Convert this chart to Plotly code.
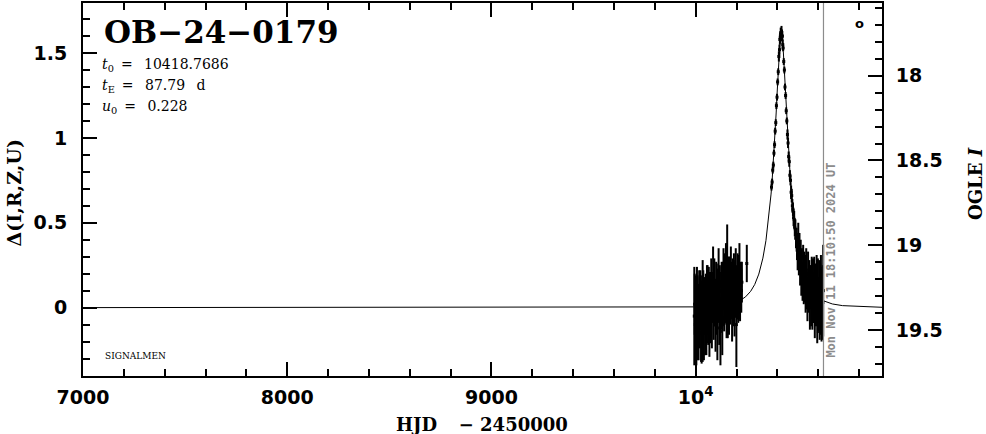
import plotly.graph_objects as go

# ---------------- data ----------------
# model curve
model_t = [7000.0, 9418.8, 9818.8, 10018.8, 10118.8, 10168.8, 10218.8, 10243.8, 10268.8,
           10288.8, 10308.8, 10328.8, 10343.8, 10358.8, 10368.8, 10373.8, 10378.8, 10383.8,
           10388.8, 10393.8, 10398.8, 10403.8, 10408.8, 10413.8, 10418.8, 10423.8, 10428.8,
           10433.8, 10438.8, 10443.8, 10448.8, 10453.8, 10458.8, 10463.8, 10468.8, 10478.8,
           10493.8, 10508.8, 10528.8, 10548.8, 10568.8, 10593.8, 10618.8, 10668.8, 10718.8,
           10818.8, 10912.0]
model_d = [0.0, 0.0001, 0.0009, 0.0043, 0.0116, 0.0215, 0.0431, 0.0634, 0.0959,
           0.1363, 0.1975, 0.2915, 0.3950, 0.5402, 0.6689, 0.7451, 0.8306, 0.9258,
           1.0315, 1.1470, 1.2704, 1.3955, 1.5101, 1.5944, 1.6260, 1.5944, 1.5101,
           1.3955, 1.2704, 1.1470, 1.0315, 0.9258, 0.8306, 0.7451, 0.6689, 0.5402,
           0.3950, 0.2915, 0.1975, 0.1363, 0.0959, 0.0634, 0.0431, 0.0215, 0.0116,
           0.0043, 0.0019]

# OGLE points: baseline season
g1_t = [9993, 9995, 9998, 10001, 10003, 10006, 10009, 10012, 10014, 10017,
        10020, 10023, 10026, 10029, 10031, 10034, 10037, 10040, 10043, 10046,
        10049, 10052, 10055, 10058, 10061, 10064, 10067, 10070, 10073, 10076,
        10079, 10082, 10085, 10088, 10091, 10094, 10097, 10100, 10103, 10106,
        10109, 10112, 10115, 10118, 10121, 10124, 10127, 10130, 10133, 10136,
        10139, 10142, 10145, 10148, 10151, 10154, 10157, 10160, 10163, 10166,
        10169, 10172, 10175, 10178, 10181, 10184, 10187, 10190, 10193, 10196,
        10199, 10202, 10205, 10208, 10211, 10214, 10217, 10220, 10223, 10226,
        10250]
g1_d = [-0.05, 0.02, -0.10, 0.04, -0.14, 0.08, -0.06, 0.00, -0.12, 0.05,
        -0.03, 0.09, -0.08, -0.15, 0.03, -0.02, 0.07, -0.11, 0.01, -0.06,
        0.06, -0.09, 0.02, 0.10, -0.04, 0.04, -0.13, 0.08, 0.00, 0.12,
        -0.05, 0.06, 0.14, -0.02, 0.09, 0.03, -0.08, 0.11, 0.05, -0.12,
        0.07, 0.15, 0.01, 0.10, -0.14, 0.04, 0.13, -0.06, 0.08, 0.17,
        0.03, 0.11, 0.06, 0.19, 0.09, 0.25, 0.02, 0.14, 0.07, 0.12,
        0.05, 0.16, 0.10, 0.02, 0.13, 0.08, 0.18, 0.04, 0.11, 0.15,
        -0.10, 0.09, 0.14, 0.06, 0.12, 0.17, 0.08, 0.13, 0.10, 0.15,
        0.26]
g1_e = [0.29, 0.18, 0.22, 0.15, 0.20, 0.16, 0.25, 0.14, 0.19, 0.17,
        0.21, 0.13, 0.24, 0.18, 0.16, 0.30, 0.15, 0.20, 0.17, 0.22,
        0.14, 0.19, 0.23, 0.15, 0.18, 0.20, 0.16, 0.13, 0.21, 0.17,
        0.19, 0.15, 0.22, 0.17, 0.20, 0.14, 0.18, 0.16, 0.21, 0.19,
        0.16, 0.20, 0.23, 0.15, 0.20, 0.17, 0.14, 0.22, 0.19, 0.18,
        0.17, 0.21, 0.15, 0.19, 0.27, 0.24, 0.20, 0.16, 0.23, 0.18,
        0.15, 0.20, 0.17, 0.22, 0.16, 0.19, 0.14, 0.21, 0.17, 0.20,
        0.25, 0.16, 0.18, 0.15, 0.19, 0.21, 0.16, 0.14, 0.13, 0.12,
        0.11]

# OGLE points: peak
g2_t = [10371, 10374, 10377, 10380, 10383, 10386, 10389, 10392, 10395, 10398,
        10401, 10404, 10407, 10410, 10412, 10414, 10416, 10418, 10420, 10422,
        10424, 10426, 10428, 10431, 10434, 10437, 10440, 10443, 10446, 10449,
        10452, 10455, 10458, 10461, 10464, 10467, 10470, 10473, 10476, 10479,
        10482, 10485, 10488, 10491, 10494]
g2_d = [0.71, 0.74, 0.81, 0.84, 0.91, 0.96, 1.04, 1.09, 1.19, 1.24,
        1.33, 1.39, 1.48, 1.52, 1.58, 1.59, 1.62, 1.61, 1.63, 1.60,
        1.60, 1.55, 1.53, 1.45, 1.40, 1.30, 1.25, 1.16, 1.10, 1.02,
        0.97, 0.89, 0.86, 0.78, 0.75, 0.68, 0.66, 0.60, 0.58, 0.53,
        0.52, 0.47, 0.46, 0.41, 0.40]
g2_e = [0.02, 0.02, 0.02, 0.02, 0.02, 0.02, 0.02, 0.02, 0.02, 0.02,
        0.02, 0.02, 0.03, 0.03, 0.03, 0.03, 0.03, 0.03, 0.03, 0.03,
        0.03, 0.03, 0.02, 0.02, 0.02, 0.02, 0.02, 0.02, 0.02, 0.03,
        0.03, 0.03, 0.03, 0.03, 0.03, 0.04, 0.04, 0.04, 0.04, 0.05,
        0.05, 0.05, 0.06, 0.06, 0.07]

# OGLE points: decline
g3_t = [10496, 10499, 10502, 10505, 10508, 10511, 10514, 10517, 10520, 10523,
        10526, 10529, 10532, 10535, 10538, 10541, 10544, 10547, 10550, 10553,
        10556, 10559, 10562, 10565, 10568, 10571, 10574, 10577, 10580, 10583,
        10586, 10589, 10592, 10595, 10598, 10601, 10604, 10607, 10610, 10613,
        10616, 10619, 10622, 10624]
g3_d = [0.36, 0.31, 0.40, 0.27, 0.33, 0.22, 0.30, 0.19, 0.26, 0.15,
        0.24, 0.12, 0.21, 0.17, 0.08, 0.20, 0.11, 0.05, 0.16, 0.09,
        0.14, 0.03, 0.12, 0.07, 0.15, 0.01, 0.10, 0.06, 0.13, -0.02,
        0.08, 0.04, 0.11, -0.04, 0.07, 0.02, 0.09, -0.01, 0.05, 0.08,
        0.00, 0.06, 0.03, 0.10]
g3_e = [0.08, 0.09, 0.10, 0.08, 0.11, 0.09, 0.10, 0.12, 0.09, 0.11,
        0.13, 0.10, 0.12, 0.14, 0.11, 0.15, 0.12, 0.13, 0.17, 0.12,
        0.14, 0.16, 0.13, 0.18, 0.15, 0.14, 0.19, 0.15, 0.17, 0.16,
        0.18, 0.15, 0.20, 0.17, 0.22, 0.16, 0.19, 0.18, 0.21, 0.23,
        0.20, 0.18, 0.22, 0.27]

x_ticks = [7000, 8000, 9000, 10000]
x_labels = ["7000", "8000", "9000", "10<sup>4</sup>"]
yl_ticks = [0, 0.5, 1, 1.5]
yl_labels = ["0", "0.5", "1", "1.5"]
yr_ticks = [18, 18.5, 19, 19.5]
yr_labels = ["18", "18.5", "19", "19.5"]

EN = "\u2002"
event_name = "OB−24−0179"
t0_text = "<i>t</i><sub>0</sub>" + EN + "=" + EN + " 10418.7686"
tE_text = "<i>t</i><sub>E</sub>" + EN + "=" + EN + " 87.79" + EN + " d"
u0_text = "<i>u</i><sub>0</sub>" + EN + "=" + EN + " 0.228"
now_hjd = 10625.5
now_text = "Mon Nov 11 18:10:50 2024 UT"
x_title = "HJD\u2003\u2009− 2450000"
yl_title = "Δ(I,R,Z,U)"
yr_title = "OGLE <i>I</i>"

# ---------------- figure ----------------
obs_t = g1_t + g2_t + g3_t
obs_d = g1_d + g2_d + g3_d
obs_e = g1_e + g2_e + g3_e

fig = go.Figure()
fig.add_trace(go.Scatter(x=model_t, y=model_d, mode="lines",
                         line=dict(color="black", width=1), showlegend=False,
                         hoverinfo="skip"))
fig.add_trace(go.Scatter(x=obs_t, y=obs_d, mode="markers",
                         marker=dict(color="black", size=3, symbol="square"),
                         error_y=dict(type="data", array=obs_e, color="black",
                                      thickness=2, width=0),
                         showlegend=False))
# empty trace so that the magnitude axis on the right is drawn
fig.add_trace(go.Scatter(x=[None], y=[None], yaxis="y2", mode="markers",
                         showlegend=False, hoverinfo="skip"))

tickfont = dict(family="DejaVu Sans", size=19, color="black", weight="bold")
axis_common = dict(ticks="inside", ticklen=14, tickwidth=2, tickcolor="black",
                   showline=True, linecolor="black", linewidth=2,
                   showgrid=False, zeroline=False, tickfont=tickfont)

fig.update_layout(
    width=986, height=434,
    margin=dict(l=83, r=104, t=1, b=58),
    paper_bgcolor="white", plot_bgcolor="white",
    showlegend=False,
    xaxis=dict(range=[7000, 10912], tickmode="array", tickvals=x_ticks,
               ticktext=x_labels, mirror="ticks", ticklabelstandoff=3,
               minor=dict(tickmode="linear", tick0=7000, dtick=200, ticks="inside",
                          ticklen=7, tickwidth=2, tickcolor="black", showgrid=False),
               **axis_common),
    yaxis=dict(range=[-0.403, 1.795], tickmode="array", tickvals=yl_ticks,
               ticktext=yl_labels, ticklabelstandoff=10,
               minor=dict(tickmode="linear", tick0=0, dtick=0.1, ticks="inside",
                          ticklen=7, tickwidth=2, tickcolor="black", showgrid=False),
               **axis_common),
    yaxis2=dict(range=[19.770, 17.572], overlaying="y", side="right",
                tickmode="array", tickvals=yr_ticks, ticktext=yr_labels,
                ticklabelstandoff=8,
                minor=dict(tickmode="linear", tick0=17.5, dtick=0.1, ticks="inside",
                           ticklen=7, tickwidth=2, tickcolor="black", showgrid=False),
                **axis_common),
)

fig.add_shape(type="line", x0=now_hjd, x1=now_hjd, y0=0, y1=1, xref="x", yref="paper",
              line=dict(color="#8c8c8c", width=1.2))

def px2paper_x(px):
    return (px - 83) / 799.0

def px2paper_y(py):
    return (376 - py) / 375.0

serif = "DejaVu Serif"
ann = [
    dict(text=event_name, x=px2paper_x(102), y=px2paper_y(30.5), xanchor="left",
         yanchor="middle", font=dict(family=serif, size=31, color="black", weight="bold")),
    dict(text=t0_text, x=px2paper_x(100), y=px2paper_y(63.5), xanchor="left",
         yanchor="middle", font=dict(family=serif, size=14, color="black")),
    dict(text=tE_text, x=px2paper_x(100), y=px2paper_y(84.5), xanchor="left",
         yanchor="middle", font=dict(family=serif, size=14, color="black")),
    dict(text=u0_text, x=px2paper_x(100), y=px2paper_y(106), xanchor="left",
         yanchor="middle", font=dict(family=serif, size=14, color="black")),
    dict(text="SIGNALMEN", x=px2paper_x(135), y=px2paper_y(355.5), xanchor="center",
         yanchor="middle", font=dict(family=serif, size=9, color="black")),
    dict(text="o", x=px2paper_x(859), y=px2paper_y(22), xanchor="center",
         yanchor="middle", font=dict(family="DejaVu Sans", size=13, color="black",
                                     weight="bold")),
    dict(text=now_text, x=px2paper_x(831), y=px2paper_y(260), xanchor="center",
         yanchor="middle", textangle=-90,
         font=dict(family="DejaVu Sans Mono", size=12, color="#8c8c8c", weight="bold")),
    dict(text=yl_title, x=px2paper_x(13.5), y=px2paper_y(192), xanchor="center",
         yanchor="middle", textangle=-90,
         font=dict(family=serif, size=19, color="black", weight="bold")),
    dict(text=yr_title, x=px2paper_x(975), y=px2paper_y(183), xanchor="center",
         yanchor="middle", textangle=-90,
         font=dict(family=serif, size=18, color="black", weight="bold")),
    dict(text=x_title, x=px2paper_x(482), y=px2paper_y(424.5), xanchor="center",
         yanchor="middle", font=dict(family=serif, size=18, color="black", weight="bold")),
]
for a in ann:
    a.update(xref="paper", yref="paper", showarrow=False)
    fig.add_annotation(**a)

fig.write_html("out.html", config={"displayModeBar": False},
               post_script="document.body.style.margin='0';document.body.style.padding='0';")
